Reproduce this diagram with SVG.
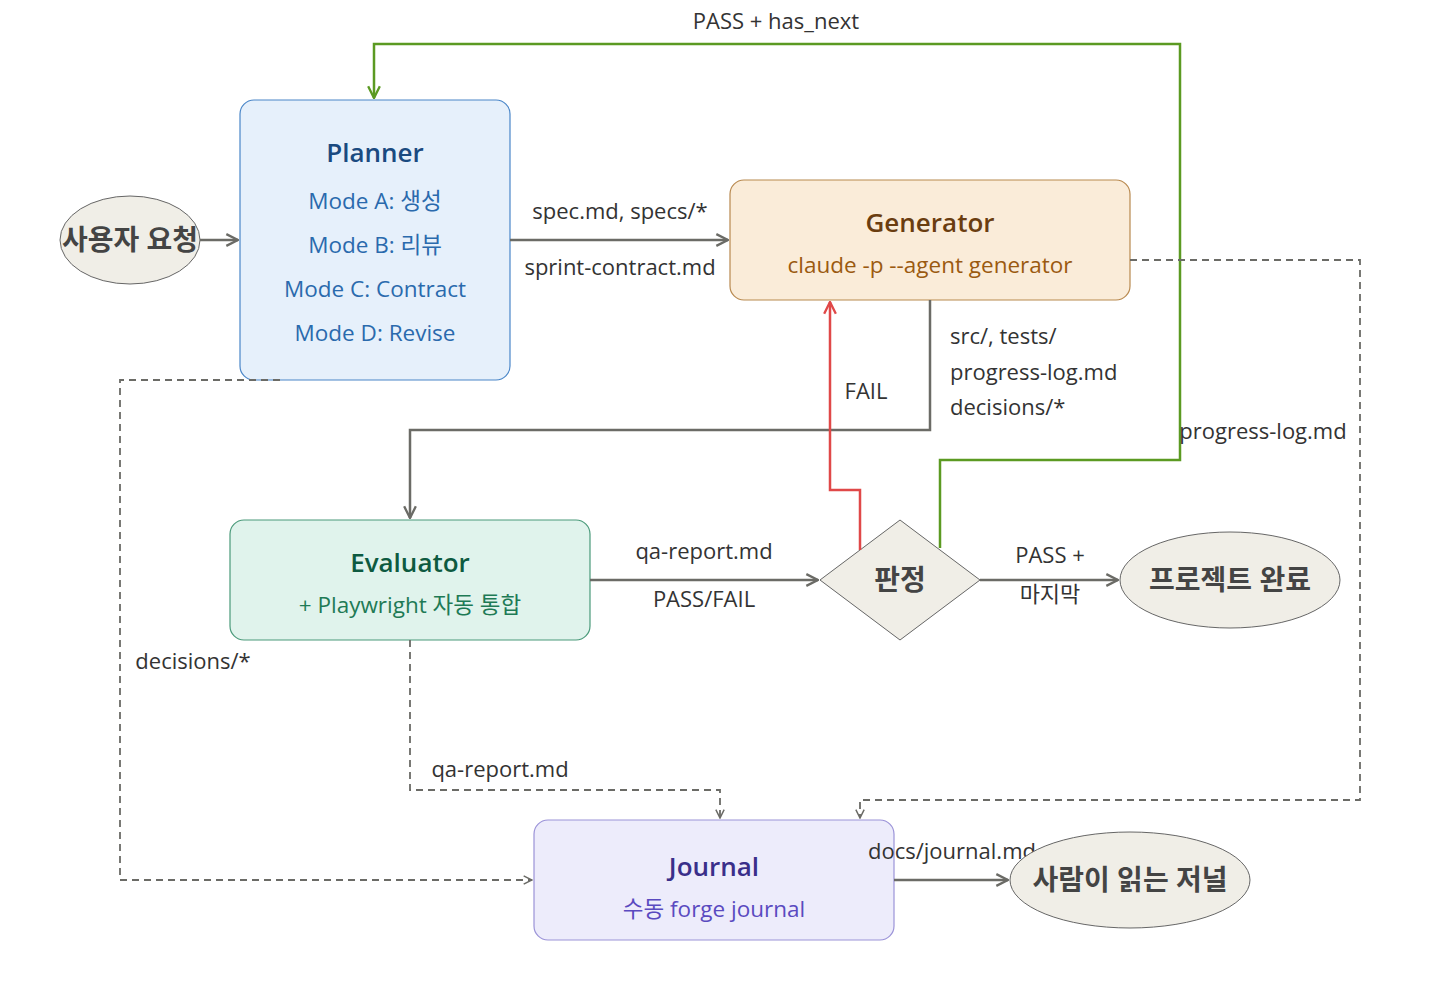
<svg xmlns="http://www.w3.org/2000/svg" width="1440" height="1000" viewBox="0 0 1440 1000">
<defs>
<style>
text{font-family:"Open Sans","Noto Sans","Noto Sans CJK KR",sans-serif;text-anchor:middle}
.lbl{font-size:22px;fill:#333}
.lbll{font-size:22px;fill:#333;text-anchor:start}
.title{font-size:26px;font-weight:600}
.sub{font-size:22.5px}
.ell{fill:#f0eee7;stroke:#666;stroke-width:1}
.ellt{font-size:28px;font-weight:600;fill:#444}
.e{fill:none;stroke:#6b6b66;stroke-width:2.5}
.d{fill:none;stroke:#6b6b66;stroke-width:1.8;stroke-dasharray:7 5}
.g{fill:none;stroke:#5b9a22;stroke-width:2.5}
.r{fill:none;stroke:#e04848;stroke-width:2.5}
</style>
<marker id="a" viewBox="0 0 12 12" refX="11" refY="6" markerWidth="14" markerHeight="14" markerUnits="userSpaceOnUse" orient="auto"><path d="M1,1 L11,6 L1,11" fill="none" stroke="#6b6b66" stroke-width="2"/></marker>
<marker id="ad" viewBox="0 0 12 12" refX="11" refY="6" markerWidth="10" markerHeight="10" markerUnits="userSpaceOnUse" orient="auto"><path d="M1,1 L11,6 L1,11" fill="none" stroke="#6b6b66" stroke-width="1.8"/></marker>
<marker id="ag" viewBox="0 0 12 12" refX="11" refY="6" markerWidth="14" markerHeight="14" markerUnits="userSpaceOnUse" orient="auto"><path d="M1,1 L11,6 L1,11" fill="none" stroke="#5b9a22" stroke-width="2"/></marker>
<marker id="ar" viewBox="0 0 12 12" refX="11" refY="6" markerWidth="14" markerHeight="14" markerUnits="userSpaceOnUse" orient="auto"><path d="M1,1 L11,6 L1,11" fill="none" stroke="#e04848" stroke-width="2"/></marker>
</defs>
<rect width="1440" height="1000" fill="#ffffff"/>

<g id="user-request">
<ellipse class="ell" cx="130" cy="240" rx="70" ry="44"/>
<text class="ellt" x="130" y="250">사용자 요청</text>
</g>

<g id="planner">
<rect x="240" y="100" width="270" height="280" rx="14" fill="#e6f0fb" stroke="#4a86c8" stroke-width="1.2"/>
<text class="title" x="375" y="162" fill="#1a4a80">Planner</text>
<text class="sub" x="375" y="209" fill="#2a6aad">Mode A: 생성</text>
<text class="sub" x="375" y="253" fill="#2a6aad">Mode B: 리뷰</text>
<text class="sub" x="375" y="297" fill="#2a6aad">Mode C: Contract</text>
<text class="sub" x="375" y="341" fill="#2a6aad">Mode D: Revise</text>
</g>

<g id="generator">
<rect x="730" y="180" width="400" height="120" rx="14" fill="#faecd9" stroke="#b8894f" stroke-width="1.2"/>
<text class="title" x="930" y="232" fill="#6a3d10">Generator</text>
<text class="sub" x="930" y="273" fill="#9a5a10">claude -p --agent generator</text>
</g>

<g id="evaluator">
<rect x="230" y="520" width="360" height="120" rx="14" fill="#e0f3ec" stroke="#4a9a7a" stroke-width="1.2"/>
<text class="title" x="410" y="572" fill="#0d5a40">Evaluator</text>
<text class="sub" x="410" y="613" fill="#1e7a55">+ Playwright 자동 통합</text>
</g>

<g id="decision">
<polygon points="820,580 900,520 980,580 900,640" fill="#f0eee7" stroke="#666" stroke-width="1"/>
<text class="ellt" x="900" y="590">판정</text>
</g>

<g id="project-done">
<ellipse class="ell" cx="1230" cy="580" rx="110" ry="48"/>
<text class="ellt" x="1230" y="590">프로젝트 완료</text>
</g>

<g id="journal">
<rect x="534" y="820" width="360" height="120" rx="14" fill="#edecfb" stroke="#9b93d8" stroke-width="1.2"/>
<text class="title" x="714" y="876" fill="#3a2f8a">Journal</text>
<text class="sub" x="714" y="917" fill="#5a4ac0">수동 forge journal</text>
</g>

<g id="connectors">
<path class="e" d="M200,240 L238,240" marker-end="url(#a)"/>
<path class="e" d="M510,240 L728,240" marker-end="url(#a)"/>
<text class="lbl" x="620" y="219">spec.md, specs/*</text>
<text class="lbl" x="620" y="275">sprint-contract.md</text>
<path class="e" d="M930,300 L930,430 L410,430 L410,518" marker-end="url(#a)"/>
<text class="lbll" x="950" y="344">src/, tests/</text>
<text class="lbll" x="950" y="380">progress-log.md</text>
<text class="lbll" x="950" y="415">decisions/*</text>
<path class="e" d="M590,580 L818,580" marker-end="url(#a)"/>
<text class="lbl" x="704" y="559">qa-report.md</text>
<text class="lbl" x="704" y="607">PASS/FAIL</text>
<path class="e" d="M980,580 L1118,580" marker-end="url(#a)"/>
<text class="lbl" x="1050" y="563">PASS +</text>
<text class="lbl" x="1050" y="602">마지막</text>
<path class="r" d="M860,550 L860,490 L830,490 L830,302" marker-end="url(#ar)"/>
<text class="lbl" x="866" y="399">FAIL</text>
<path class="g" d="M940,548 L940,460 L1180,460 L1180,44 L374,44 L374,98" marker-end="url(#ag)"/>
<text class="lbl" x="776" y="29">PASS + has_next</text>
<path class="d" d="M1130,260 L1360,260 L1360,800 L860,800 L860,818" marker-end="url(#ad)"/>
<text class="lbl" x="1263" y="439">progress-log.md</text>
<path class="d" d="M280,380 L120,380 L120,880 L532,880" marker-end="url(#ad)"/>
<text class="lbl" x="193" y="669">decisions/*</text>
<path class="d" d="M410,640 L410,790 L720,790 L720,818" marker-end="url(#ad)"/>
<text class="lbl" x="500" y="777">qa-report.md</text>
<path class="e" d="M894,880 L1008,880" marker-end="url(#a)"/>
<text class="lbl" x="952" y="859">docs/journal.md</text>
</g>

<g id="human-journal">
<ellipse class="ell" cx="1130" cy="880" rx="120" ry="48"/>
<text class="ellt" x="1130" y="890">사람이 읽는 저널</text>
</g>
</svg>
